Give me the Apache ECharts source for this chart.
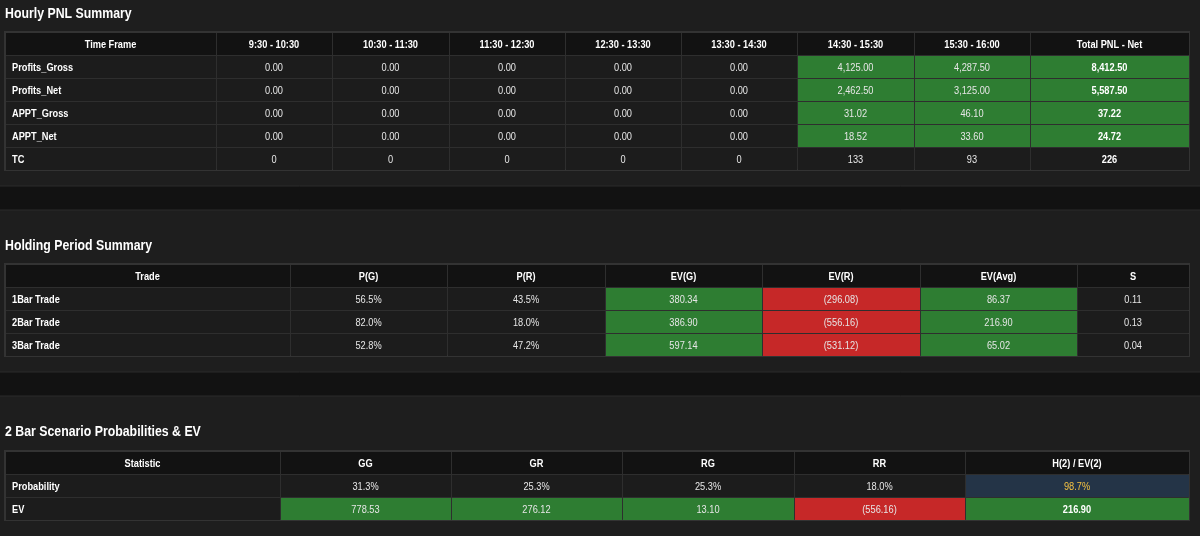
<!DOCTYPE html>
<html>
<head>
<meta charset="utf-8">
<script src="https://cdn.jsdelivr.net/npm/echarts@6/dist/echarts.min.js"></script>
<style>
  html, body { margin: 0; padding: 0; background: #1e1e1e; }
  #main { width: 1200px; height: 536px; }
</style>
</head>
<body>
<div id="main"></div>
<script>
// hourly pnl table
var timeFrames = ['9:30 - 10:30', '10:30 - 11:30', '11:30 - 12:30', '12:30 - 13:30', '13:30 - 14:30', '14:30 - 15:30', '15:30 - 16:00'];
var hourlyMetrics = ['Profits_Gross', 'Profits_Net', 'APPT_Gross', 'APPT_Net', 'TC'];
var profitsGross = [0, 0, 0, 0, 0, 4125.00, 4287.50];
var profitsNet = [0, 0, 0, 0, 0, 2462.50, 3125.00];
var apptGross = [0, 0, 0, 0, 0, 31.02, 46.10];
var apptNet = [0, 0, 0, 0, 0, 18.52, 33.60];
var tradeCount = [0, 0, 0, 0, 0, 133, 93];
var totalPnlNet = [8412.50, 5587.50, 37.22, 24.72, 226];

// holding period table
var holdCols = ['P(G)', 'P(R)', 'EV(G)', 'EV(R)', 'EV(Avg)', 'S'];
var trades = ['1Bar Trade', '2Bar Trade', '3Bar Trade'];
var probG = [56.5, 82.0, 52.8];
var probR = [43.5, 18.0, 47.2];
var evG = [380.34, 386.90, 597.14];
var evR = [-296.08, -556.16, -531.12];
var evAvg = [86.37, 216.90, 65.02];
var sRatio = [0.11, 0.13, 0.04];

// 2 bar scenarios
var scenarios = ['GG', 'GR', 'RG', 'RR'];
var scenProb = [31.3, 25.3, 25.3, 18.0];
var scenEv = [778.53, 276.12, 13.10, -556.16];
var h2Prob = 98.7;
var ev2 = 216.90;

var sectionTitles = ['Hourly PNL Summary', 'Holding Period Summary', '2 Bar Scenario Probabilities & EV'];

// column widths (layout only)
var widths1 = [211, 116, 117, 116, 116, 116, 117, 116, 159];
var widths2 = [285, 157, 158, 157, 158, 157, 112];
var widths3 = [275, 171, 171, 172, 171, 224];

var FONT = '"Liberation Sans", Arial, sans-serif';
var fills = { head: '#121212', plain: '#1c1c1c', pos: '#2e7d32', neg: '#c62828', navy: '#243447' };

function money(v) {
  var s = Math.abs(v).toFixed(2).replace(/\B(?=(\d{3})+(?!\d))/g, ',');
  return v < 0 ? '(' + s + ')' : s;
}
function pct(v) { return v.toFixed(1) + '%'; }
function signFill(v) { return v > 0 ? 'pos' : (v < 0 ? 'neg' : 'plain'); }

function edges(w) {
  var e = [0];
  for (var i = 0; i < w.length; i++) e.push(e[i] + w[i]);
  return e;
}

function makeCells(w, header, rows) {
  var e = edges(w);
  var cells = [];
  header.forEach(function (h, c) {
    cells.push({ value: [e[c], e[c + 1], 0], text: h, fill: 'head', bold: true, align: 'center' });
  });
  rows.forEach(function (r, ri) {
    r.forEach(function (cell, c) {
      cells.push({
        value: [e[c], e[c + 1], ri + 1],
        text: cell.text,
        fill: cell.fill || 'plain',
        bold: !!cell.bold,
        color: cell.color,
        align: c === 0 ? 'left' : 'center'
      });
    });
  });
  return cells;
}

// table 1
var rows1 = [];
var hourlySeries = [profitsGross, profitsNet, apptGross, apptNet, tradeCount];
hourlyMetrics.forEach(function (m, i) {
  var r = [{ text: m, bold: true }];
  var isCount = m === 'TC';
  hourlySeries[i].forEach(function (v) {
    r.push({ text: isCount ? String(v) : money(v), fill: isCount ? 'plain' : signFill(v) });
  });
  var t = totalPnlNet[i];
  r.push({ text: isCount ? String(t) : money(t), fill: isCount ? 'plain' : signFill(t), bold: true });
  rows1.push(r);
});
var cells1 = makeCells(widths1, ['Time Frame'].concat(timeFrames).concat(['Total PNL - Net']), rows1);

// table 2
var rows2 = trades.map(function (t, i) {
  return [
    { text: t, bold: true },
    { text: pct(probG[i]) },
    { text: pct(probR[i]) },
    { text: money(evG[i]), fill: signFill(evG[i]) },
    { text: money(evR[i]), fill: signFill(evR[i]) },
    { text: money(evAvg[i]), fill: signFill(evAvg[i]) },
    { text: sRatio[i].toFixed(2) }
  ];
});
var cells2 = makeCells(widths2, ['Trade'].concat(holdCols), rows2);

// table 3
var probRow = [{ text: 'Probability', bold: true }];
var evRow = [{ text: 'EV', bold: true }];
scenarios.forEach(function (s, i) {
  probRow.push({ text: pct(scenProb[i]) });
  evRow.push({ text: money(scenEv[i]), fill: signFill(scenEv[i]) });
});
probRow.push({ text: pct(h2Prob), fill: 'navy', color: '#f5c242' });
evRow.push({ text: money(ev2), fill: signFill(ev2), bold: true });
var cells3 = makeCells(widths3, ['Statistic'].concat(scenarios).concat(['H(2) / EV(2)']), [probRow, evRow]);

function cellRenderer(cells) {
  return function (params, api) {
    var c = cells[params.dataIndex];
    var p0 = api.coord([api.value(0), api.value(2)]);
    var p1 = api.coord([api.value(1), api.value(2)]);
    var h = api.size([0, 1])[1];
    var x = Math.round(p0[0]), x2 = Math.round(p1[0]);
    var y = Math.round(p0[1] - h / 2), y2 = Math.round(p0[1] + h / 2);
    var tx = c.align === 'left' ? x + 7 : (x + x2) / 2;
    return {
      type: 'group',
      children: [
        { type: 'rect', shape: { x: x + 1, y: y + 1, width: x2 - x - 1, height: y2 - y - 1 }, style: { fill: fills[c.fill] } },
        {
          type: 'text',
          x: tx, y: (y + y2) / 2 + 1,
          scaleX: 0.84,
          style: {
            text: c.text, x: 0, y: 0,
            align: c.align, verticalAlign: 'middle',
            fill: c.color || (c.bold ? '#ffffff' : '#e6e6e6'),
            font: (c.bold ? 'bold ' : '') + '11px ' + FONT
          }
        }
      ]
    };
  };
}

var tables = [
  { cells: cells1, widths: widths1, rows: 6, top: 32, titleY: 14 },
  { cells: cells2, widths: widths2, rows: 4, top: 264, titleY: 246 },
  { cells: cells3, widths: widths3, rows: 3, top: 451, titleY: 432 }
];

var myChart = echarts.init(document.getElementById('main'));
var option = {
  backgroundColor: '#1e1e1e',
  animation: false,
  graphic: [
    { type: 'rect', shape: { x: -1, y: 186, width: 1202, height: 24 }, style: { fill: '#121212', stroke: '#2a2a2a', lineWidth: 1 }, silent: true },
    { type: 'rect', shape: { x: -1, y: 372, width: 1202, height: 24 }, style: { fill: '#121212', stroke: '#2a2a2a', lineWidth: 1 }, silent: true }
  ],
  grid: [],
  xAxis: [],
  yAxis: [],
  series: []
};

tables.forEach(function (t, i) {
  var total = t.widths.reduce(function (a, b) { return a + b; }, 0);
  var rowIds = [];
  for (var r = 0; r < t.rows; r++) rowIds.push('r' + r);
  // section title, drawn slightly condensed like the source
  option.graphic.push({
    type: 'text', x: 5, y: t.titleY, scaleX: 0.88, silent: true,
    style: { text: sectionTitles[i], verticalAlign: 'middle', fill: '#ffffff', font: 'bold 14px ' + FONT }
  });
  option.grid.push({
    left: 5, top: t.top, width: total, height: t.rows * 23,
    show: true, backgroundColor: '#2e2e2e', borderColor: '#333333', borderWidth: 2
  });
  option.xAxis.push({ type: 'value', gridIndex: i, min: 0, max: total, show: false });
  option.yAxis.push({ type: 'category', gridIndex: i, data: rowIds, inverse: true, show: false });
  option.series.push({
    type: 'custom',
    xAxisIndex: i,
    yAxisIndex: i,
    renderItem: cellRenderer(t.cells),
    encode: { x: [0, 1], y: 2 },
    data: t.cells.map(function (c) { return c.value; }),
    silent: true
  });
});

myChart.setOption(option);
</script>
</body>
</html>
